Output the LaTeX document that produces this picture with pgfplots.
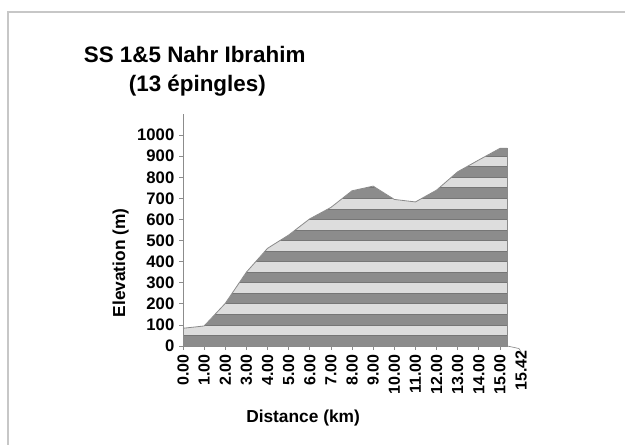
\documentclass[border=0pt]{standalone}
\usepackage{fontspec}
\setmainfont{Liberation Sans}
\usepackage{pgfplots}
\pgfplotsset{compat=1.18}
\definecolor{darkband}{HTML}{8C8C8C}
\definecolor{lightband}{HTML}{DDDDDD}
\definecolor{bandedge}{HTML}{767676}
\definecolor{outline}{HTML}{8A8A8A}
\pgfplotstableread{
x y
0 84
1 95
2 202
3 350
4 463
5 526
6 603
7 657
8 736
9 758
10 695
11 683
12 739
13 826
14 882
15 937
15.35 937
}\profile
\begin{document}
\begin{tikzpicture}
\path[use as bounding box] (0,0) rectangle (468.75pt,333.75pt);
\draw[color=black!22, line width=0.9pt] (6pt,-2pt) -- (6pt,324.75pt) -- (470pt,324.75pt);
\node[font=\bfseries\fontsize{16.8}{18}\selectfont, anchor=base, inner sep=0pt] at (146pt,286.5pt) {SS 1\&5 Nahr Ibrahim};
\node[font=\bfseries\fontsize{16.8}{18}\selectfont, anchor=base, inner sep=0pt] at (148pt,264.75pt) {(13 épingles)};
\begin{axis}[
  at={(137.25pt,74.25pt)}, anchor=south west,
  scale only axis, width=253.7pt, height=174pt,
  xmin=0, xmax=16.01, ymin=0, ymax=1100,
  axis on top,
  axis x line*=bottom, axis y line*=left,
  x axis line style={draw=none},
  y axis line style={draw=black!45, line width=0.6pt, -},
  xtick={0,1,2,3,4,5,6,7,8,9,10,11,12,13,14,15},
  xticklabels={0.00,1.00,2.00,3.00,4.00,5.00,6.00,7.00,8.00,9.00,10.00,11.00,12.00,13.00,14.00,15.00},
  extra x ticks={16}, extra x tick labels={15.42},
  extra x tick style={major tick length=0pt},
  ytick={0,100,200,300,400,500,600,700,800,900,1000},
  tick align=outside, major tick length=3pt,
  tick style={draw=black!45, line width=0.6pt},
  xticklabel style={rotate=90, anchor=east, font=\bfseries\fontsize{12}{12}\selectfont},
  yticklabel style={font=\bfseries\fontsize{12.5}{12.5}\selectfont},
  /pgf/number format/assume math mode=true,
  /pgf/number format/1000 sep={},
  xlabel={Distance (km)}, ylabel={Elevation (m)},
  xlabel style={at={(axis description cs:0.355,-0.31)}, anchor=center, font=\bfseries\fontsize{13}{13}\selectfont},
  ylabel style={at={(axis description cs:-0.184,0.358)}, anchor=center, font=\bfseries\fontsize{13}{13}\selectfont},
  clip=false,
]
% dark base area
\addplot[fill=darkband, draw=none] table[x=x, y=y] {\profile} \closedcycle;
% light bands
\addplot[fill=lightband, draw=none] coordinates {(0,50)(15.35,50)(15.35,100)(0,100)} -- cycle;
\addplot[fill=lightband, draw=none] coordinates {(0,150)(15.35,150)(15.35,200)(0,200)} -- cycle;
\addplot[fill=lightband, draw=none] coordinates {(0,250)(15.35,250)(15.35,300)(0,300)} -- cycle;
\addplot[fill=lightband, draw=none] coordinates {(0,350)(15.35,350)(15.35,400)(0,400)} -- cycle;
\addplot[fill=lightband, draw=none] coordinates {(0,450)(15.35,450)(15.35,500)(0,500)} -- cycle;
\addplot[fill=lightband, draw=none] coordinates {(0,550)(15.35,550)(15.35,600)(0,600)} -- cycle;
\addplot[fill=lightband, draw=none] coordinates {(0,650)(15.35,650)(15.35,700)(0,700)} -- cycle;
\addplot[fill=lightband, draw=none] coordinates {(0,750)(15.35,750)(15.35,800)(0,800)} -- cycle;
\addplot[fill=lightband, draw=none] coordinates {(0,850)(15.35,850)(15.35,900)(0,900)} -- cycle;
% band edges
\pgfplotsinvokeforeach{50,100,...,900}{
  \addplot[draw=bandedge, line width=0.55pt] coordinates {(0,#1)(15.35,#1)};
}
% white mask above the profile
\addplot[fill=white, draw=none] table[x=x, y=y] {\profile} -- (axis cs:15.35,960) -- (axis cs:0,960) -- cycle;
% outline
\addplot[draw=outline, line width=0.6pt] table[x=x, y=y] {\profile};
\draw[outline, line width=0.6pt] (axis cs:15.35,937) -- (axis cs:15.35,0) -- (axis cs:0,0);
\draw[black!45, line width=0.5pt] (axis cs:15.35,0) -- (axis cs:15.9,-12) -- (axis cs:16,-28);
\end{axis}
\end{tikzpicture}
\end{document}
